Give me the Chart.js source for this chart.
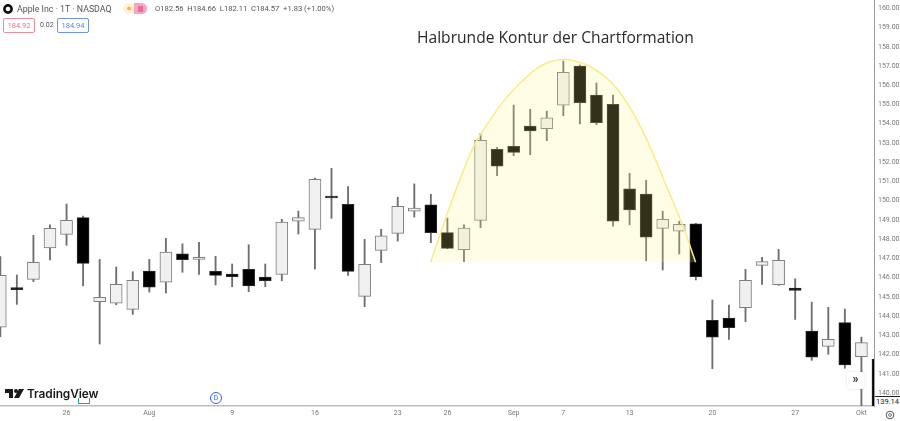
<!DOCTYPE html>
<html>
<head>
<meta charset="utf-8">
<title>Halbrunde Kontur der Chartformation</title>
<script src="https://cdn.jsdelivr.net/npm/chart.js@4/dist/chart.umd.min.js"></script>
<style>
  html, body { margin: 0; padding: 0; background: #fff; }
  #wrap { position: relative; width: 900px; height: 421px; overflow: hidden; font-family: Roboto, sans-serif; }
  #wrap > * { position: absolute; }
  canvas { left: 0; top: 0; }
  .head { color: #555; font-size: 8.6px; white-space: nowrap; line-height: 10px; }
  .box { top: 18px; height: 13px; line-height: 13px; width: 30px; text-align: center; font-size: 7.5px; border: 1px solid; border-radius: 2px; }
  #title { left: 417px; top: 27px; font-size: 15.6px; line-height: 20px; color: #2a2a2a; white-space: nowrap; font-family: "Open Sans", sans-serif; }
  #last { left: 875px; top: 396px; width: 25px; height: 10px; border-top: 1px solid #222; background: #fff; text-align: center; font-size: 7.5px; line-height: 10px; color: #222; }
  #logo { left: 27px; top: 387px; font-size: 11.9px; line-height: 14px; font-weight: 600; color: #1a1a1a; font-family: Inter, sans-serif; letter-spacing: -0.1px; }
  #more { left: 847px; top: 372px; width: 17px; height: 17px; line-height: 15px; text-align: center; background: #fff; border-radius: 3px; box-shadow: 0 0 3px rgba(0,0,0,.12); font-size: 12px; font-weight: 700; color: #333; }
  #dmark { left: 210px; top: 392px; width: 10px; height: 10px; line-height: 10px; text-align: center; border: 1px solid #2962ff; border-radius: 50%; font-size: 7px; color: #2962ff; background: #fff; }
  #lmark { left: 78px; top: 398px; width: 10px; height: 5px; border: 1px solid #26a69a; border-top: 0; }
</style>
</head>
<body>
<div id="wrap">
  <canvas id="chart" width="900" height="421"></canvas>

  <svg style="left:3px;top:4px" width="10" height="10"><circle cx="5" cy="5" r="3.6" fill="#fff" stroke="#111" stroke-width="2.6"/></svg>
  <div class="head" style="left:17px;top:4px;font-size:8.8px">Apple Inc · 1T · NASDAQ</div>
  <svg style="left:123px;top:3px" width="24" height="11">
    <rect x="0" y="0" width="24" height="11" rx="5.5" fill="#fff3dc"/>
    <path d="M11 0h7.5a5.5 5.5 0 0 1 0 11h-7.5z" fill="#f5a6c0"/>
    <circle cx="6" cy="5.5" r="2" fill="#f5b83d"/>
    <path d="M15 4h5M15 6h5M15 8h5" stroke="#d81b60" stroke-width="0.8"/>
  </svg>
  <div class="head" style="left:155px;top:4px;font-size:7.6px">O182.56&nbsp; H184.66&nbsp; L182.11&nbsp; C184.57&nbsp; +1.83 (+1.00%)</div>
  <div class="box" style="left:3px;color:#e57385;border-color:#e88ea0">184.92</div>
  <div class="head" style="left:40px;top:20px;font-size:7px">0.02</div>
  <div class="box" style="left:57px;color:#5b7fd8;border-color:#6f95ea">184.94</div>

  <div id="title">Halbrunde Kontur der Chartformation</div>

  <svg style="left:5px;top:389px" width="19" height="10">
    <path d="M0 0h8v9H4V4H0zM14 0h5l-5 9h-5z" fill="#1a1a1a"/><circle cx="11" cy="2" r="2" fill="#1a1a1a"/>
  </svg>
  <div id="lmark"></div>
  <div id="logo">TradingView</div>
  <div id="dmark">D</div>
  <div id="more">»</div>
  <div id="last">139.14</div>
  <svg style="left:885px;top:410px" width="10" height="10"><circle cx="5" cy="5" r="3.8" fill="none" stroke="#555" stroke-width="1"/><circle cx="5" cy="5" r="1.4" fill="none" stroke="#555" stroke-width="0.8"/></svg>
</div>

<script>
// daily candles
const opens = [143.43,145.48,145.91,147.54,148.25,149.12,144.75,144.67,144.35,146.34,145.77,147.24,146.95,146.33,146.19,146.43,146.03,146.17,148.93,148.51,150.24,149.81,145.03,147.42,148.30,149.45,149.79,148.34,147.45,148.98,152.67,152.83,153.88,153.74,154.97,156.99,155.49,155.01,150.62,150.35,148.56,148.42,148.80,143.78,143.90,144.44,146.64,145.63,145.46,143.23,142.43,143.66,141.89,141.77];
const highs = [147.09,146.14,148.20,148.74,149.83,149.20,146.95,146.55,146.31,146.95,148.04,147.76,147.84,147.11,146.71,147.71,146.71,149.03,149.46,151.18,151.68,150.73,147.99,148.51,150.18,150.87,150.33,149.10,148.74,153.50,152.77,154.97,154.75,154.65,157.26,157.05,156.12,155.49,151.42,151.06,149.45,148.93,148.82,144.84,144.58,146.43,147.06,147.47,145.94,144.73,144.46,144.37,142.91,141.77];
const lows = [142.93,144.61,145.79,146.92,147.68,145.57,142.55,144.59,144.09,145.25,145.20,146.28,146.17,145.62,145.53,145.27,145.53,145.84,148.27,146.46,149.08,146.12,144.49,146.78,147.90,149.15,147.82,147.50,146.83,148.60,151.30,152.34,152.39,153.12,154.42,153.99,153.95,148.68,148.75,146.88,146.40,147.23,145.88,141.27,142.79,143.71,145.65,145.60,143.83,141.70,142.02,141.29,139.33,139.14];
const closes = [146.12,145.37,146.80,148.56,148.98,146.74,144.98,145.65,145.86,145.51,147.33,146.93,147.06,146.12,146.05,145.57,145.84,148.89,149.12,151.11,150.14,146.33,146.69,148.18,149.71,149.62,148.34,147.52,148.58,153.14,151.80,152.51,153.62,154.31,156.67,155.09,154.05,148.93,149.52,148.10,149.03,148.77,146.05,142.91,143.40,145.86,146.83,146.90,145.34,141.87,142.79,141.46,142.62,139.14];

const tickIndex = [4, 9, 14, 19, 24, 27, 31, 34, 38, 43, 48, 52];
const tickLabels = ['26', 'Aug', '9', '16', '23', '26', 'Sep', '7', '13', '20', '27', 'Okt'];

// the rounded top drawn on the chart, in candle index / price
const domeIndex = [25.99,26.59,27.36,28.62,29.37,30.37,31.38,32.39,33.2,34.0,35.41,36.41,37.22,38.23,39.23,40.24,41.24,41.99];
const domePrice = [146.80,148.34,150.21,152.89,153.93,155.15,156.10,156.88,157.22,157.35,157.05,156.53,155.84,154.54,152.81,150.73,148.65,146.80];
const domeBase = 146.8;

const isUp = opens.map((o, i) => closes[i] >= o);

new Chart(document.getElementById('chart'), {
    type: 'bar',
    data: {
        datasets: [
            {
                // wicks
                data: highs.map((h, i) => ({ x: i, y: [lows[i], h] })),
                backgroundColor: '#6e6e6e',
                barThickness: 1.2,
                grouped: false,
                order: 3
            },
            {
                // bodies
                data: opens.map((o, i) => ({ x: i, y: [o, closes[i]] })),
                backgroundColor: isUp.map(u => u ? '#f0f0f0' : '#000000'),
                borderColor: isUp.map(u => u ? '#7d7d7d' : '#2a2a2a'),
                borderWidth: 1,
                borderSkipped: false,
                barThickness: 12,
                grouped: false,
                order: 2
            },
            {
                type: 'line',
                data: domeIndex.map((x, i) => ({ x: x, y: domePrice[i] })),
                borderColor: '#fbeb85',
                borderWidth: 1.5,
                backgroundColor: 'rgba(255,245,130,0.2)',
                fill: { value: domeBase },
                cubicInterpolationMode: 'monotone',
                pointRadius: 0,
                order: 1
            }
        ]
    },
    options: {
        responsive: false,
        animation: false,
        layout: { padding: 0 },
        plugins: { legend: { display: false }, tooltip: { enabled: false } },
        scales: {
            x: {
                type: 'linear',
                min: -0.018,
                max: 52.76,
                offset: false,
                grid: { display: false, drawTicks: false },
                border: { color: '#bdbdbd', width: 1.5 },
                afterBuildTicks: scale => { scale.ticks = tickIndex.map(v => ({ value: v })); },
                afterFit: scale => {
                    scale.height = 15;
                    scale.paddingLeft = 0;
                    scale.paddingRight = 0;
                },
                ticks: {
                    autoSkip: false,
                    maxRotation: 0,
                    padding: 3,
                    color: '#777',
                    font: { family: 'Roboto', size: 7 },
                    callback: (v, i) => tickLabels[i]
                }
            },
            y: {
                position: 'right',
                min: 139.33,
                max: 160.43,
                grid: { display: false, drawTicks: false },
                border: { color: '#9a9a9a', width: 1 },
                afterFit: scale => {
                    scale.width = 26;
                    scale.paddingTop = 0;
                    scale.paddingBottom = 0;
                },
                ticks: {
                    stepSize: 1,
                    includeBounds: false,
                    padding: 4,
                    color: '#777',
                    font: { family: 'Roboto', size: 7 },
                    callback: v => v.toFixed(2)
                }
            }
        }
    }
});
</script>
</body>
</html>
